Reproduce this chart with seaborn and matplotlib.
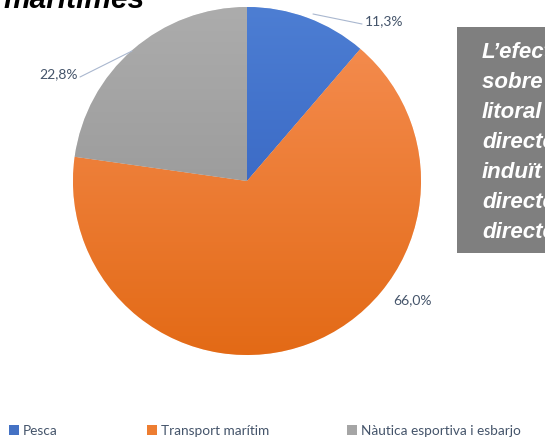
import numpy as np
import matplotlib
matplotlib.use("Agg")
import matplotlib.pyplot as plt
import matplotlib.colors as mcolors
from matplotlib.patches import Rectangle
from matplotlib.legend import Legend
import seaborn as sns

# ---- data ----
categories = ["Pesca", "Transport marítim", "Nàutica esportiva i esbarjo"]
values = [11.3, 66.0, 22.8]
value_labels = ["11,3%", "66,0%", "22,8%"]
title_tail = "marítimes"
box_lines = ["L’efecte", "sobre el", "litoral", "directe", "induït", "directe", "directe"]

# ---- style ----
sns.set_theme(style="white")
plt.rcParams["font.family"] = ["Liberation Sans", "DejaVu Sans"]

top_colors = ["#4D7ED3", "#F68F54", "#ACACAC"]
bot_colors = ["#2B59BA", "#E36A16", "#8E8E8E"]
base_colors = ["#4472C4", "#ED7D31", "#A5A5A5"]

W, H = 545, 438
fig = plt.figure(figsize=(W / 100, H / 100), dpi=100)
ax = fig.add_axes([0, 0, 1, 1])

def Y(py):
    return H - py

cx, cy, r = 247, Y(181), 174

wedges, _ = ax.pie(values, colors=base_colors, startangle=90, counterclock=False,
                   center=(cx, cy), radius=r, wedgeprops=dict(linewidth=0.4, edgecolor="white"))

# vertical gradient fill per wedge
for w, c1, c2 in zip(wedges, top_colors, bot_colors):
    a = np.array(mcolors.to_rgb(c1))
    b = np.array(mcolors.to_rgb(c2))
    t = np.linspace(0, 1, 256)[:, None]
    grad = (a[None, :] * (1 - t) + b[None, :] * t)[:, None, :]
    im = ax.imshow(grad, extent=[cx - r, cx + r, cy - r, cy + r], origin="upper",
                   aspect="auto", zorder=w.get_zorder() + 0.1, interpolation="bilinear")
    im.set_clip_path(w)

label_color = "#44546A"
line_color = "#A9B7CF"
lab_font = ["Lato", "DejaVu Sans"]
# data labels
ax.text(365, Y(21), value_labels[0], fontsize=10, color=label_color, ha="left", va="center",
        family=lab_font)
ax.plot([313, 362], [Y(14), Y(24)], color=line_color, lw=0.8)
ax.text(412, Y(300), value_labels[1], fontsize=10, color=label_color, ha="center", va="center",
        family=lab_font)
ax.text(78, Y(74), value_labels[2], fontsize=10, color=label_color, ha="right", va="center",
        family=lab_font)
ax.plot([80, 132], [Y(77), Y(51)], color=line_color, lw=0.8)

# title tail (cut off at top)
ax.text(3, Y(8), title_tail, fontsize=21.5, fontweight="bold", fontstyle="italic",
        color="black", ha="left", va="baseline")

# right grey box
ax.add_patch(Rectangle((457, Y(253)), 120, 226, facecolor="#7F7F7F", edgecolor="none", zorder=3))
for i, line in enumerate(box_lines):
    ax.text(482, Y(52 + 30 * i), line, fontsize=16, fontweight="bold", fontstyle="italic",
            color="white", ha="left", va="center", zorder=4)

# legend: one entry per position
legend_x = [9, 147, 347]
for w, cat, c, lx in zip(wedges, categories, base_colors, legend_x):
    leg = Legend(ax, [w], [cat], loc="center left", bbox_to_anchor=(lx / W, 1 - 431 / H),
                 frameon=False, handlelength=0.7, handleheight=0.7, handletextpad=0.3,
                 borderaxespad=0, borderpad=0, prop={"family": lab_font, "size": 9.8})
    for t in leg.get_texts():
        t.set_color(label_color)
    for h in leg.legend_handles:
        h.set_facecolor(c)
        h.set_edgecolor("none")
    ax.add_artist(leg)

ax.set_xlim(0, W)
ax.set_ylim(0, H)
ax.set_aspect("auto")
ax.axis("off")
fig.savefig("out.png", dpi=100)
